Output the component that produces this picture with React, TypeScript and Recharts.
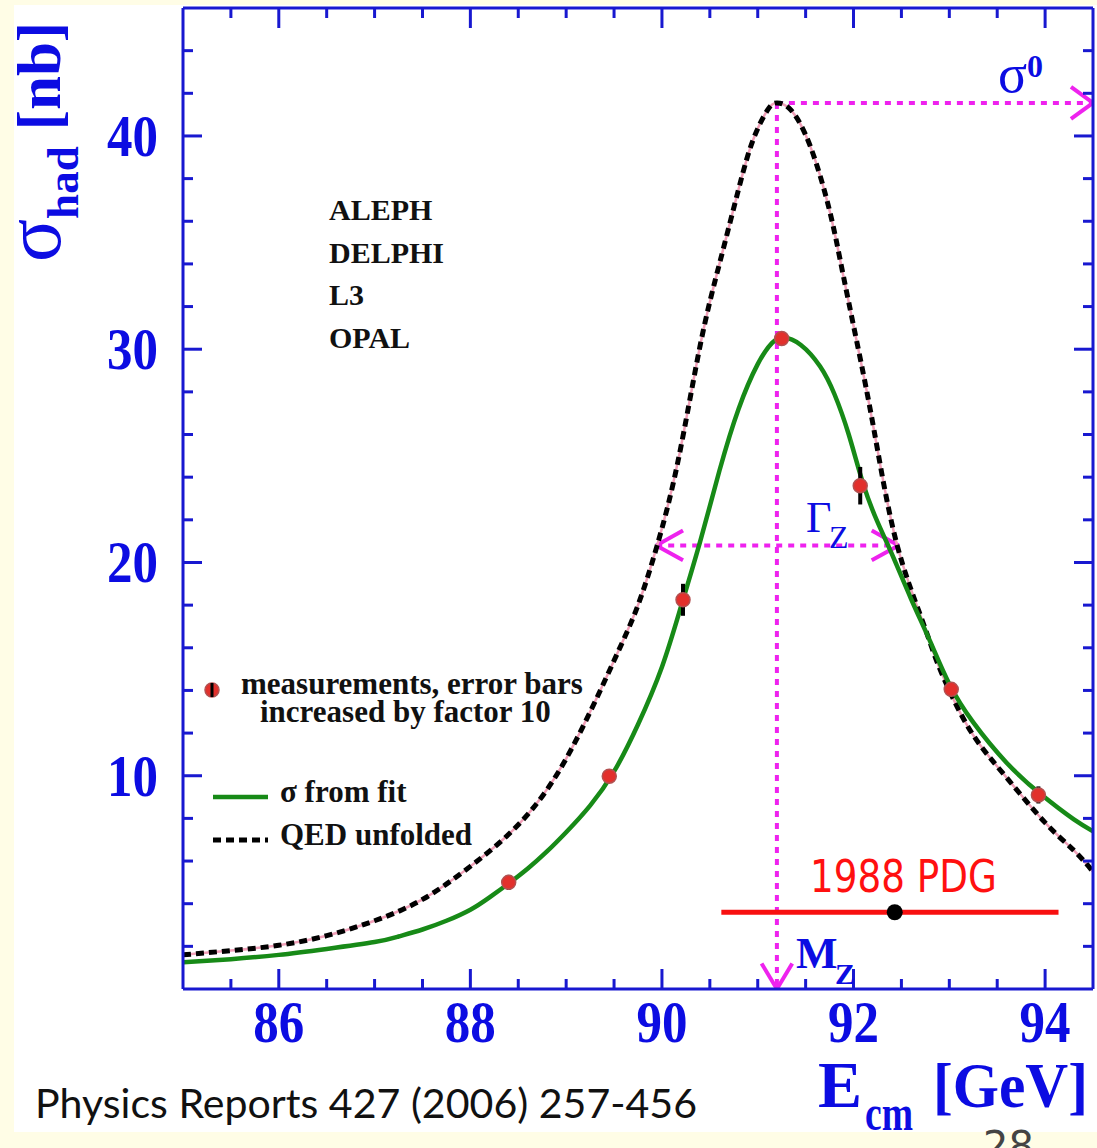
import React from 'react';
import {
  ComposedChart,
  Line,
  Scatter,
  XAxis,
  YAxis,
  ErrorBar,
  ReferenceLine,
  ReferenceDot,
} from 'recharts';

// ---------- data ----------
// σ from fit (green curve)
const fitE = [85.0, 85.5, 86.0, 86.5, 87.0, 87.25, 87.5, 87.75, 88.0, 88.2, 88.4, 88.6, 88.8, 89.0, 89.25, 89.5, 89.75, 90.0, 90.2, 90.4, 90.6, 90.8, 91.0, 91.15, 91.27, 91.45, 91.65, 91.8, 91.95, 92.1, 92.25, 92.4, 92.6, 92.8, 93.0, 93.25, 93.6, 93.95, 94.3, 94.5];
const fitS = [1.25, 1.4, 1.6, 1.88, 2.2, 2.46, 2.79, 3.2, 3.72, 4.3, 4.95, 5.65, 6.45, 7.35, 8.6, 10.2, 12.4, 15.1, 17.95, 21.0, 24.3, 27.2, 29.3, 30.3, 30.55, 30.2, 29.2, 27.9, 26.0, 23.7, 21.9, 20.4, 18.3, 16.3, 14.3, 12.5, 10.6, 9.15, 7.95, 7.4];

// QED unfolded (dashed curve)
const qedE = [85.0, 85.5, 86.0, 86.5, 87.0, 87.5, 88.0, 88.5, 89.0, 89.5, 89.75, 89.95, 90.17, 90.4, 90.6, 90.8, 90.95, 91.1, 91.2, 91.35, 91.55, 91.75, 91.9, 92.1, 92.25, 92.45, 92.7, 92.85, 93.0, 93.25, 93.6, 94.0, 94.3, 94.5];
const qedS = [1.6, 1.8, 2.05, 2.5, 3.2, 4.2, 5.75, 7.7, 10.8, 15.4, 18.0, 20.8, 24.8, 30.2, 34.0, 37.5, 39.8, 41.2, 41.55, 41.2, 39.5, 36.5, 33.3, 28.9, 25.3, 20.9, 17.5, 15.6, 14.0, 11.9, 9.9, 7.8, 6.5, 5.5];

// measurements (error bars ×10)
const measE = [88.4, 89.45, 90.22, 91.25, 92.07, 93.02, 93.93];
const measS = [5.0, 9.98, 18.25, 30.5, 23.6, 14.05, 9.1];
const measErr = [0.35, 0.1, 0.75, 0.12, 0.88, 0.15, 0.4];

// annotations
const mzValue = [91.2];
const sigma0Value = [41.55];
const gammaRange = [89.94, 92.47];
const gammaLevel = [20.8];
const pdgRange = [90.62, 94.14];
const pdgCentral = [92.43];
const pdgLevel = [3.6];

// axes
const xDomain = [85, 94.5];
const yDomain = [0, 46];
const xTicks = [85.5, 86, 86.5, 87, 87.5, 88, 88.5, 89, 89.5, 90, 90.5, 91, 91.5, 92, 92.5, 93, 93.5, 94];
const xLabels = [86, 88, 90, 92, 94];
const yTicks = [2, 4, 6, 8, 10, 12, 14, 16, 18, 20, 22, 24, 26, 28, 30, 32, 34, 36, 38, 40, 42, 44];
const yLabels = [10, 20, 30, 40];
const experiments = ['ALEPH', 'DELPHI', 'L3', 'OPAL'];

const fitData = fitE.map((x, i) => ({ x, y: fitS[i] }));
const qedData = qedE.map((x, i) => ({ x, y: qedS[i] }));
const measData = measE.map((x, i) => ({ x, y: measS[i], err: measErr[i] }));

// ---------- styles ----------
const AXIS_BLUE = '#1818d0';
const LABEL_BLUE = '#0c0ce2';
const MAGENTA = '#ee22ee';
const GREEN = '#178a17';
const SERIF = "'Liberation Serif', 'DejaVu Serif', serif";

const BottomTick = (props: any) => {
  const { x, y, payload } = props;
  const v = payload.value;
  const major = xLabels.includes(v);
  return (
    <g>
      <line x1={x} x2={x} y1={y} y2={y - (major ? 20 : 10)} stroke={AXIS_BLUE} strokeWidth={3} />
      {major && (
        <text x={x} y={y + 53} textAnchor="middle" fontFamily={SERIF} fontWeight="bold" fontSize={59}
          fill={LABEL_BLUE} textLength={51} lengthAdjust="spacingAndGlyphs">
          {v}
        </text>
      )}
    </g>
  );
};

const TopTick = (props: any) => {
  const { x, y, payload } = props;
  const major = xLabels.includes(payload.value);
  return <line x1={x} x2={x} y1={y} y2={y + (major ? 20 : 10)} stroke={AXIS_BLUE} strokeWidth={3} />;
};

const LeftTick = (props: any) => {
  const { x, y, payload } = props;
  const v = payload.value;
  const major = yLabels.includes(v);
  return (
    <g>
      <line x1={x} x2={x + (major ? 19 : 10)} y1={y} y2={y} stroke={AXIS_BLUE} strokeWidth={3} />
      {major && (
        <text x={x - 25} y={y + 20} textAnchor="end" fontFamily={SERIF} fontWeight="bold" fontSize={59}
          fill={LABEL_BLUE} textLength={51} lengthAdjust="spacingAndGlyphs">
          {v}
        </text>
      )}
    </g>
  );
};

const RightTick = (props: any) => {
  const { x, y, payload } = props;
  const major = yLabels.includes(payload.value);
  return <line x1={x} x2={x - (major ? 19 : 10)} y1={y} y2={y} stroke={AXIS_BLUE} strokeWidth={3} />;
};

const MeasDot = (props: any) => {
  const { cx, cy } = props;
  return <circle cx={cx} cy={cy} r={7} fill="#e2302c" stroke="#b35050" strokeWidth={1.5} />;
};

const NoShape = () => <g />;

const axisLine = { stroke: AXIS_BLUE, strokeWidth: 3 };

export default function App() {
  const W = 1097;
  const H = 1148;
  const mz = mzValue[0];
  const s0 = sigma0Value[0];
  const gy = gammaLevel[0];
  const dash = '6 6';
  return (
    <div style={{ position: 'absolute', left: 0, top: 0, width: W, height: H, background: '#fffde6', overflow: 'hidden' }}>
      <div style={{ position: 'absolute', left: 14, top: 5, width: W - 14, height: 1127, background: '#ffffff' }} />
      <div style={{ position: 'absolute', left: 0, top: 0 }}>
        <ComposedChart width={W} height={H} margin={{ top: 7, right: 0, bottom: 0, left: 0 }}>
          <XAxis xAxisId="b" type="number" dataKey="x" domain={xDomain} ticks={xTicks} interval={0}
            allowDataOverflow height={159} axisLine={axisLine} tickLine={false} tickSize={0} tickMargin={0}
            tick={<BottomTick />} />
          <XAxis xAxisId="t" orientation="top" type="number" dataKey="x" domain={xDomain} ticks={xTicks}
            interval={0} allowDataOverflow height={1} axisLine={axisLine} tickLine={false} tickSize={0}
            tickMargin={0} tick={<TopTick />} />
          <YAxis yAxisId="l" type="number" dataKey="y" domain={yDomain} ticks={yTicks} interval={0}
            allowDataOverflow width={183} axisLine={axisLine} tickLine={false} tickSize={0} tickMargin={0}
            tick={<LeftTick />} />
          <YAxis yAxisId="r" orientation="right" type="number" dataKey="y" domain={yDomain} ticks={yTicks}
            interval={0} allowDataOverflow width={4} axisLine={axisLine} tickLine={false} tickSize={0}
            tickMargin={0} tick={<RightTick />} />

          {/* annotation lines */}
          <ReferenceLine xAxisId="b" yAxisId="l" segment={[{ x: mz, y: s0 }, { x: mz, y: 0 }]}
            stroke={MAGENTA} strokeWidth={4} strokeDasharray={dash} ifOverflow="visible" />
          <ReferenceLine xAxisId="b" yAxisId="l" segment={[{ x: mz, y: s0 }, { x: xDomain[1], y: s0 }]}
            stroke={MAGENTA} strokeWidth={4} strokeDasharray={dash} ifOverflow="visible" />
          <ReferenceLine xAxisId="b" yAxisId="l" segment={[{ x: gammaRange[0], y: gy }, { x: gammaRange[1], y: gy }]}
            stroke={MAGENTA} strokeWidth={4} strokeDasharray={dash} ifOverflow="visible" />
          {/* arrow heads */}
          <ReferenceLine xAxisId="b" yAxisId="l" segment={[{ x: xDomain[1], y: s0 }, { x: xDomain[1] - 0.23, y: s0 + 0.75 }]}
            stroke={MAGENTA} strokeWidth={4} ifOverflow="visible" />
          <ReferenceLine xAxisId="b" yAxisId="l" segment={[{ x: xDomain[1], y: s0 }, { x: xDomain[1] - 0.23, y: s0 - 0.75 }]}
            stroke={MAGENTA} strokeWidth={4} ifOverflow="visible" />
          <ReferenceLine xAxisId="b" yAxisId="l" segment={[{ x: mz, y: 0 }, { x: mz - 0.16, y: 1.2 }]}
            stroke={MAGENTA} strokeWidth={4} ifOverflow="visible" />
          <ReferenceLine xAxisId="b" yAxisId="l" segment={[{ x: mz, y: 0 }, { x: mz + 0.16, y: 1.2 }]}
            stroke={MAGENTA} strokeWidth={4} ifOverflow="visible" />
          <ReferenceLine xAxisId="b" yAxisId="l" segment={[{ x: gammaRange[0], y: gy }, { x: gammaRange[0] + 0.28, y: gy + 0.7 }]}
            stroke={MAGENTA} strokeWidth={4} ifOverflow="visible" />
          <ReferenceLine xAxisId="b" yAxisId="l" segment={[{ x: gammaRange[0], y: gy }, { x: gammaRange[0] + 0.28, y: gy - 0.7 }]}
            stroke={MAGENTA} strokeWidth={4} ifOverflow="visible" />
          <ReferenceLine xAxisId="b" yAxisId="l" segment={[{ x: gammaRange[1], y: gy }, { x: gammaRange[1] - 0.28, y: gy + 0.7 }]}
            stroke={MAGENTA} strokeWidth={4} ifOverflow="visible" />
          <ReferenceLine xAxisId="b" yAxisId="l" segment={[{ x: gammaRange[1], y: gy }, { x: gammaRange[1] - 0.28, y: gy - 0.7 }]}
            stroke={MAGENTA} strokeWidth={4} ifOverflow="visible" />

          {/* curves */}
          <Line xAxisId="b" yAxisId="l" data={qedData} dataKey="y" type="natural" stroke="#f0a0b8"
            strokeWidth={2.5} dot={false} activeDot={false} isAnimationActive={false} />
          <Line xAxisId="b" yAxisId="l" data={qedData} dataKey="y" type="natural" stroke="#000000"
            strokeWidth={5} strokeDasharray="8 5" dot={false} activeDot={false} isAnimationActive={false} />
          <Line xAxisId="b" yAxisId="l" data={fitData} dataKey="y" type="natural" stroke={GREEN}
            strokeWidth={4.5} dot={false} activeDot={false} isAnimationActive={false} />

          {/* measurements */}
          <Scatter xAxisId="b" yAxisId="l" data={measData} dataKey="y" shape={<MeasDot />} isAnimationActive={false} />
          <Scatter xAxisId="b" yAxisId="l" data={measData} dataKey="y" shape={<NoShape />} isAnimationActive={false}>
            <ErrorBar dataKey="err" direction="y" width={0} stroke="#000000" strokeWidth={4} />
          </Scatter>

          {/* 1988 PDG */}
          <ReferenceLine xAxisId="b" yAxisId="l" segment={[{ x: pdgRange[0], y: pdgLevel[0] }, { x: pdgRange[1], y: pdgLevel[0] }]}
            stroke="#f81010" strokeWidth={5} ifOverflow="visible" />
          <ReferenceDot xAxisId="b" yAxisId="l" x={pdgCentral[0]} y={pdgLevel[0]} r={8} fill="#000000" stroke="none" />
        </ComposedChart>
      </div>

      {/* texts & legend */}
      <svg width={W} height={H + 40} style={{ position: 'absolute', left: 0, top: 0, pointerEvents: 'none', overflow: 'visible' }}>
        {/* y title */}
        <text transform="translate(60,262) rotate(-90)" fontFamily={SERIF} fontWeight="bold" fill={LABEL_BLUE}>
          <tspan fontSize={80} fontWeight="normal">σ</tspan>
          <tspan fontSize={45} dy={18}>had</tspan>
          <tspan fontSize={61} dy={-18} dx={16}>[nb]</tspan>
        </text>
        {/* x title */}
        <text x={818} y={1107} fontFamily={SERIF} fontWeight="bold" fontSize={66} fill={LABEL_BLUE}>E</text>
        <text x={865} y={1130} fontFamily={SERIF} fontWeight="bold" fontSize={50} fill={LABEL_BLUE}
          textLength={48} lengthAdjust="spacingAndGlyphs">cm</text>
        <text x={933} y={1107} fontFamily={SERIF} fontWeight="bold" fontSize={64} fill={LABEL_BLUE}
          textLength={155} lengthAdjust="spacingAndGlyphs">[GeV]</text>

        {/* annotation labels */}
        <text x={998} y={92} fontFamily={SERIF} fontSize={54} fill={LABEL_BLUE}>σ</text>
        <text x={1027} y={77} fontFamily={SERIF} fontWeight="bold" fontSize={32} fill={LABEL_BLUE}>0</text>
        <text x={806} y={532} fontFamily={SERIF} fontSize={44} fill={LABEL_BLUE}>Γ</text>
        <text x={829} y={548} fontFamily={SERIF} fontSize={32} fill={LABEL_BLUE}>Z</text>
        <text x={796} y={968} fontFamily={SERIF} fontWeight="bold" fontSize={44} fill={LABEL_BLUE}>M</text>
        <text x={835} y={984} fontFamily={SERIF} fontWeight="bold" fontSize={30} fill={LABEL_BLUE}>Z</text>
        <text x={810} y={892} fontFamily="'DejaVu Sans', sans-serif" fontSize={44} fill="#ff1010"
          textLength={187} lengthAdjust="spacingAndGlyphs">1988 PDG</text>

        {/* experiments */}
        {experiments.map((e, i) => (
          <text key={e} x={329} y={220 + i * 42.5} fontFamily={SERIF} fontWeight="bold" fontSize={30} fill="#111">{e}</text>
        ))}

        {/* legend */}
        <circle cx={212} cy={690} r={7} fill="#e2302c" stroke="#b35050" strokeWidth={1.5} />
        <line x1={212} x2={212} y1={683} y2={697} stroke="#000" strokeWidth={3} />
        <text x={241} y={694} fontFamily={SERIF} fontWeight="bold" fontSize={31} fill="#111">measurements, error bars</text>
        <text x={260} y={722} fontFamily={SERIF} fontWeight="bold" fontSize={31} fill="#111">increased by factor 10</text>
        <line x1={213} x2={268} y1={797} y2={797} stroke={GREEN} strokeWidth={4.5} />
        <text x={280} y={802} fontFamily={SERIF} fontWeight="bold" fontSize={31} fill="#111">σ from fit</text>
        <line x1={213} x2={268} y1={840} y2={840} stroke="#000" strokeWidth={5} strokeDasharray="8 5" />
        <text x={280} y={845} fontFamily={SERIF} fontWeight="bold" fontSize={31} fill="#111">QED unfolded</text>

        {/* citation & page number */}
        <text x={35} y={1118} fontFamily="Lato, 'DejaVu Sans', sans-serif" fontSize={41} fill="#111"
          textLength={662} lengthAdjust="spacingAndGlyphs">Physics Reports 427 (2006) 257-456</text>
        <text x={983} y={1160} fontFamily="'DejaVu Sans', sans-serif" fontSize={40} fill="#444">28</text>
      </svg>
    </div>
  );
}
